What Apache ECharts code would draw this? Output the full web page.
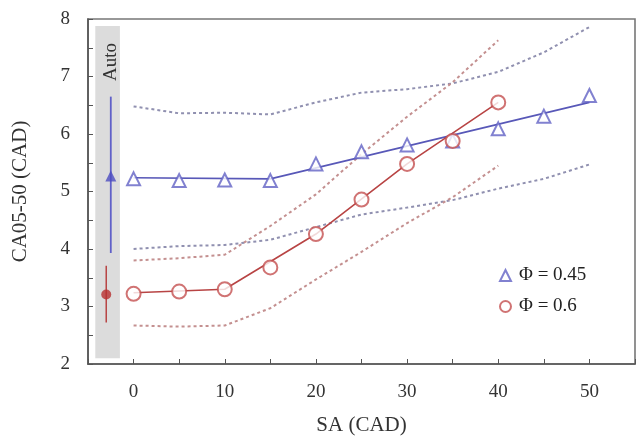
<!DOCTYPE html>
<html>
<head>
<meta charset="utf-8">
<script src="https://cdn.jsdelivr.net/npm/echarts@6/dist/echarts.min.js"></script>
<style>
  html, body { margin: 0; padding: 0; background: #fff; }
  #chart { width: 638px; height: 441px; }
</style>
</head>
<body>
<div id="chart"></div>
<script>
// SA values (x)
const sa045 = [0, 5, 10, 15, 20, 25, 30, 35, 40, 45, 50];
const sa06 = [0, 5, 10, 15, 20, 25, 30, 35, 40];

// measured CA05-50, Φ = 0.45 (triangles) and Φ = 0.6 (circles)
const ca045 = [5.22, 5.19, 5.2, 5.19, 5.48, 5.69, 5.81, 5.88, 6.09, 6.31, 6.67];
const ca06 = [3.22, 3.26, 3.3, 3.68, 4.26, 4.86, 5.48, 5.88, 6.55];

// fitted solid lines
const fitX045 = [0, 15, 50];
const fitY045 = [5.24, 5.22, 6.55];
const fitX06 = [0, 10, 20, 30, 40];
const fitY06 = [3.24, 3.3, 4.26, 5.48, 6.55];

// dashed bands
const upper045 = [6.48, 6.36, 6.37, 6.34, 6.55, 6.72, 6.78, 6.88, 7.08, 7.42, 7.86];
const lower045 = [4.0, 4.05, 4.07, 4.16, 4.38, 4.6, 4.72, 4.85, 5.05, 5.22, 5.47];
const upper06 = [3.8, 3.84, 3.9, 4.4, 4.95, 5.65, 6.3, 6.9, 7.63];
const lower06 = [2.67, 2.65, 2.67, 2.97, 3.47, 3.95, 4.45, 4.9, 5.45];

// "Auto" reference points with spread
const autoX045 = -2.5, auto045 = 5.27, autoLo045 = 3.93, autoHi045 = 6.65;
const autoX06 = -3, auto06 = 3.21, autoLo06 = 2.72, autoHi06 = 3.71;
const autoBand = [[-4.2, 2.1], [-1.5, 7.88]];

const blue = '#5858b8';
const red = '#b84444';
const font = 'Liberation Serif, Times New Roman, serif';

const pairs = (xs, ys) => xs.map((x, i) => [x, ys[i]]);

const dashed = (data, color) => ({
  type: 'line',
  data: data,
  symbol: 'none',
  silent: true,
  lineStyle: { color: color, width: 2, type: [3, 3] },
  z: 2
});

const chart = echarts.init(document.getElementById('chart'));
chart.setOption({
  animation: false,
  grid: { left: 88, right: -6, top: 19, bottom: 75, show: true, borderColor: '#777', borderWidth: 1.6 },
  legend: {
    orient: 'vertical',
    left: 494,
    top: 261,
    itemWidth: 11,
    itemHeight: 11,
    itemGap: 12,
    data: ['Φ = 0.45', 'Φ = 0.6'],
    textStyle: { fontFamily: font, fontSize: 19, color: '#222', padding: [0, 0, 0, 3] }
  },
  xAxis: {
    type: 'value',
    min: -5,
    max: 55,
    interval: 5,
    name: 'SA (CAD)',
    nameLocation: 'middle',
    nameGap: 51,
    nameTextStyle: { fontFamily: font, fontSize: 21, color: '#333' },
    axisLine: { onZero: false, lineStyle: { color: '#555', width: 1.6 } },
    axisTick: { inside: true, length: 5, lineStyle: { color: '#555' } },
    axisLabel: {
      margin: 19,
      fontFamily: font, fontSize: 19, color: '#333',
      formatter: v => (v >= 0 && v % 10 === 0 && v <= 50) ? String(v) : ''
    },
    splitLine: { show: false }
  },
  yAxis: {
    type: 'value',
    min: 2,
    max: 8,
    interval: 0.5,
    name: 'CA05-50 (CAD)',
    nameLocation: 'middle',
    nameGap: 57,
    nameTextStyle: { fontFamily: font, fontSize: 21, color: '#333' },
    axisLine: { show: true, onZero: false, lineStyle: { color: '#555', width: 1.6 } },
    axisTick: { show: true, inside: true, length: 5, lineStyle: { color: '#555' } },
    axisLabel: {
      margin: 18,
      fontFamily: font, fontSize: 19, color: '#333',
      formatter: v => Number.isInteger(v) ? String(v) : ''
    },
    splitLine: { show: false }
  },
  graphic: [{
    type: 'text',
    x: 111,
    y: 62,
    rotation: Math.PI / 2,
    style: {
      text: 'Auto',
      fontFamily: font,
      fontSize: 19,
      fill: '#333',
      textAlign: 'center',
      textVerticalAlign: 'middle'
    },
    z: 10
  }],
  series: [
    {
      type: 'line',
      name: 'autoBand',
      data: [],
      silent: true,
      markArea: {
        silent: true,
        itemStyle: { color: 'rgba(205,205,205,0.7)' },
        data: [[{ coord: autoBand[0] }, { coord: autoBand[1] }]]
      },
      z: 1
    },
    dashed(pairs(sa045, upper045), '#9090b0'),
    dashed(pairs(sa045, lower045), '#9090b0'),
    dashed(pairs(sa06, upper06), '#c49090'),
    dashed(pairs(sa06, lower06), '#c49090'),
    {
      type: 'line',
      data: pairs(fitX045, fitY045),
      symbol: 'none',
      silent: true,
      lineStyle: { color: blue, width: 1.6 },
      z: 3
    },
    {
      type: 'line',
      data: pairs(fitX06, fitY06),
      symbol: 'none',
      silent: true,
      lineStyle: { color: red, width: 1.6 },
      z: 3
    },
    {
      type: 'line',
      data: [[autoX045, autoLo045], [autoX045, autoHi045]],
      symbol: 'none',
      silent: true,
      lineStyle: { color: '#6060c8', width: 1.8 },
      z: 3
    },
    {
      type: 'line',
      data: [[autoX06, autoLo06], [autoX06, autoHi06]],
      symbol: 'none',
      silent: true,
      lineStyle: { color: red, width: 1.5 },
      z: 3
    },
    {
      type: 'scatter',
      data: [[autoX045, auto045]],
      symbol: 'triangle',
      symbolSize: 11,
      itemStyle: { color: '#4c4cc0' },
      z: 4
    },
    {
      type: 'scatter',
      data: [[autoX06, auto06]],
      symbol: 'circle',
      symbolSize: 10,
      itemStyle: { color: '#b83030' },
      z: 4
    },
    {
      type: 'scatter',
      name: 'Φ = 0.45',
      data: pairs(sa045, ca045),
      symbol: 'emptyTriangle',
      symbolSize: 13,
      itemStyle: { color: '#6262c4', borderWidth: 1.5 },
      z: 5
    },
    {
      type: 'scatter',
      name: 'Φ = 0.6',
      data: pairs(sa06, ca06),
      symbol: 'emptyCircle',
      symbolSize: 14,
      itemStyle: { color: '#c45050', borderWidth: 1.5 },
      z: 5
    }
  ]
});
</script>
</body>
</html>
